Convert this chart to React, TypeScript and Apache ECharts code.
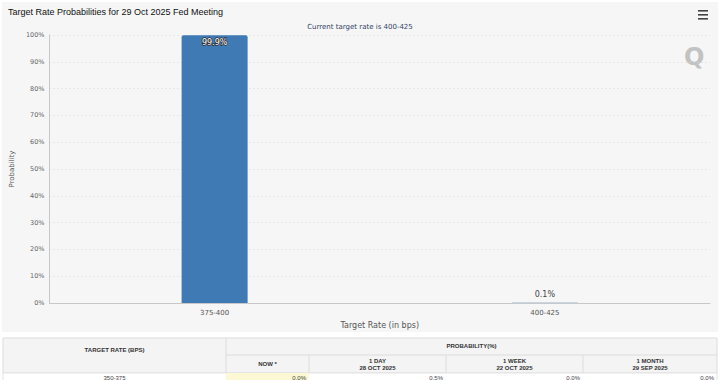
import React, { useEffect, useRef } from "react";
import * as echarts from "echarts";

const categories = ["375-400", "400-425"];
const probabilities = [99.9, 0.1];
const yTicks = [0, 10, 20, 30, 40, 50, 60, 70, 80, 90, 100];

const tableLeftHeader = "TARGET RATE (BPS)";
const tableGroupHeader = "PROBABILITY(%)";
const tableSubHeaders = ["NOW *", "1 DAY\n28 OCT 2025", "1 WEEK\n22 OCT 2025", "1 MONTH\n29 SEP 2025"];
const tableRowLabels = ["350-375"];
const tableRowValues = [["0.0%", "0.5%", "0.0%", "0.0%"]];

const colEdges = [3, 226, 309, 446, 583, 717];

export default function App() {
  const ref = useRef<HTMLDivElement>(null);
  useEffect(() => {
    if (!ref.current) return;
    const chart = echarts.init(ref.current, undefined, { renderer: "svg" });

    const graphic: any[] = [];
    graphic.push({ type: "rect", z: -100, shape: { x: 2, y: 2, width: 716, height: 330 }, style: { fill: "#f6f6f6" } });
    [10, 14, 18].forEach((y) =>
      graphic.push({ type: "rect", shape: { x: 698, y, width: 10, height: 1.6 }, style: { fill: "#444" } })
    );
    graphic.push({ type: "text", x: 684, y: 45, style: { text: "Q", fill: "#c2c2c2", font: "bold 24px 'DejaVu Sans'" } });

    const tTop = 338, tMid = 355, tRow = 373, tBottom = 381;
    graphic.push({ type: "rect", shape: { x: colEdges[0], y: tTop, width: colEdges[5] - colEdges[0], height: tRow - tTop }, style: { fill: "#f4f4f4", stroke: "#dcdcdc", lineWidth: 1 } });
    graphic.push({ type: "rect", shape: { x: colEdges[0], y: tRow, width: colEdges[5] - colEdges[0], height: tBottom - tRow }, style: { fill: "#ffffff", stroke: "#e4e4e4", lineWidth: 1 } });
    graphic.push({ type: "rect", shape: { x: colEdges[1], y: tRow, width: colEdges[2] - colEdges[1], height: tBottom - tRow }, style: { fill: "#fbf8d3" } });
    graphic.push({ type: "line", shape: { x1: colEdges[1], y1: tTop, x2: colEdges[1], y2: tRow }, style: { stroke: "#dcdcdc" } });
    graphic.push({ type: "line", shape: { x1: colEdges[1], y1: tMid, x2: colEdges[5], y2: tMid }, style: { stroke: "#dcdcdc" } });
    for (let i = 2; i < 5; i++) {
      graphic.push({ type: "line", shape: { x1: colEdges[i], y1: tMid, x2: colEdges[i], y2: tRow }, style: { stroke: "#dcdcdc" } });
    }
    const hFont = "bold 6px 'Liberation Sans'";
    graphic.push({ type: "text", x: (colEdges[0] + colEdges[1]) / 2, y: 350, style: { text: tableLeftHeader, fill: "#333", font: hFont, align: "center", verticalAlign: "middle" } });
    graphic.push({ type: "text", x: (colEdges[1] + colEdges[5]) / 2, y: 346, style: { text: tableGroupHeader, fill: "#333", font: hFont, align: "center", verticalAlign: "middle" } });
    tableSubHeaders.forEach((t, i) => {
      graphic.push({ type: "text", x: (colEdges[i + 1] + colEdges[i + 2]) / 2, y: 364, style: { text: t, fill: "#333", font: hFont, align: "center", verticalAlign: "middle", lineHeight: 7 } });
    });
    tableRowLabels.forEach((lab, r) => {
      const y = 378 + r * 10;
      graphic.push({ type: "text", x: (colEdges[0] + colEdges[1]) / 2, y, style: { text: lab, fill: "#444", font: "6px 'Liberation Sans'", align: "center", verticalAlign: "middle" } });
      tableRowValues[r].forEach((v, i) => {
        graphic.push({ type: "text", x: colEdges[i + 2] - 3, y, style: { text: v, fill: "#444", font: "6px 'Liberation Sans'", align: "right", verticalAlign: "middle" } });
      });
    });

    chart.setOption({
      animation: false,
      backgroundColor: "#ffffff",
      title: [
        { text: "Target Rate Probabilities for 29 Oct 2025 Fed Meeting", left: 3, top: 2, textStyle: { fontFamily: "Liberation Sans", fontSize: 9, fontWeight: "normal", color: "#111" } },
        { text: "Current target rate is 400-425", left: "center", top: 18, textStyle: { fontFamily: "DejaVu Sans", fontSize: 7, fontWeight: "normal", color: "#334466" } },
      ],
      grid: { left: 43, right: 10, top: 35, bottom: 77 },
      xAxis: {
        type: "category",
        data: categories,
        name: "Target Rate (in bps)",
        nameLocation: "middle",
        nameGap: 18,
        nameTextStyle: { fontFamily: "DejaVu Sans", fontSize: 8, color: "#555" },
        axisLine: { lineStyle: { color: "#c8c8c8" } },
        axisTick: { show: false },
        axisLabel: { fontFamily: "DejaVu Sans", fontSize: 7, color: "#555", margin: 6 },
      },
      yAxis: {
        type: "value",
        min: 0,
        max: 100,
        interval: 10,
        name: "Probability",
        nameLocation: "middle",
        nameGap: 27,
        nameTextStyle: { fontFamily: "DejaVu Sans", fontSize: 7, color: "#555" },
        axisLine: { show: true, lineStyle: { color: "#c8c8c8" } },
        axisTick: { show: false },
        axisLabel: { fontFamily: "DejaVu Sans", fontSize: 6.5, color: "#666", margin: 5, formatter: (v: number) => (yTicks.includes(v) ? v + "%" : "") },
        splitLine: { lineStyle: { color: "#d8d8d8", type: [1, 3] } },
      },
      series: [
        {
          type: "bar",
          data: probabilities.map((v, i) => ({
            value: v,
            label: i === 0
              ? { show: true, position: "insideTop", distance: 3, color: "#fff", textBorderColor: "#333", textBorderWidth: 1.5, fontFamily: "DejaVu Sans", fontSize: 8, formatter: "{c}%" }
              : { show: true, position: "top", distance: 4, color: "#444", fontFamily: "DejaVu Sans", fontSize: 8, formatter: "{c}%" },
          })),
          barWidth: 66,
          itemStyle: { color: "#3f7ab5", borderRadius: [2, 2, 0, 0] },
        },
      ],
      graphic,
    });
    return () => chart.dispose();
  }, []);
  return <div ref={ref} style={{ position: "absolute", left: 0, top: 0, width: 720, height: 380 }} />;
}
